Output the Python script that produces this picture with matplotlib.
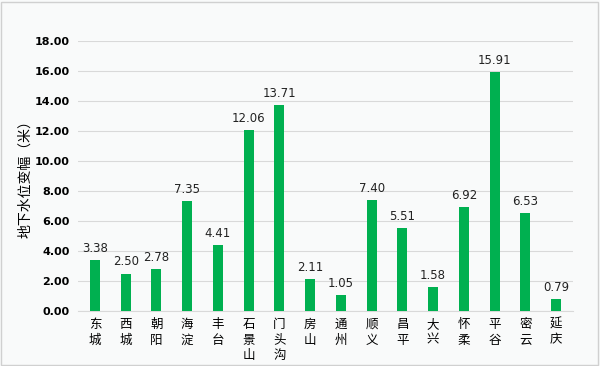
import matplotlib
matplotlib.use('Agg')
import matplotlib.pyplot as plt

plt.rcParams['font.family'] = ['Noto Sans CJK SC', 'DejaVu Sans']

# 各区地下水位变幅
districts = ['东城', '西城', '朝阳', '海淀', '丰台', '石景山', '门头沟', '房山',
             '通州', '顺义', '昌平', '大兴', '怀柔', '平谷', '密云', '延庆']
values = [3.38, 2.50, 2.78, 7.35, 4.41, 12.06, 13.71, 2.11,
          1.05, 7.40, 5.51, 1.58, 6.92, 15.91, 6.53, 0.79]
yticks = [0, 2, 4, 6, 8, 10, 12, 14, 16, 18]

bg = '#f9fafa'
fig = plt.figure(figsize=(6, 3.66), dpi=100, facecolor=bg)
fig.patches.append(plt.Rectangle((0.002, 0.003), 0.995, 0.992, transform=fig.transFigure,
                                 fill=False, edgecolor='#d0d0d0', linewidth=1))
ax = fig.add_axes([0.13, 0.15, 0.825, 0.738])
ax.set_facecolor(bg)

x = range(len(values))
ax.bar(x, values, width=0.33, color='#00b050', zorder=3)
for i, v in zip(x, values):
    ax.text(i, v + 0.35, f'{v:.2f}', ha='center', va='bottom', fontsize=8.5,
            family='DejaVu Sans', color='#222222')

ax.set_ylim(0, 18)
ax.set_xlim(-0.55, len(values) - 0.45)
ax.set_yticks(yticks)
ax.set_yticklabels([f'{t:.2f}' for t in yticks], fontsize=8, fontweight='bold',
                   family='DejaVu Sans')
ax.yaxis.grid(True, color='#d9d9d9', linewidth=0.8, zorder=0)
ax.set_xticks(list(x))
ax.set_xticklabels(['\n'.join(d) for d in districts], fontsize=9, linespacing=1.25,
                   va='top')
ax.tick_params(axis='both', length=0)
ax.tick_params(axis='x', pad=5)
ax.tick_params(axis='y', pad=6)
for s in ['top', 'right', 'left']:
    ax.spines[s].set_visible(False)
ax.spines['bottom'].set_color('#d9d9d9')
ax.set_ylabel('地下水位变幅（米）', fontsize=10, labelpad=2)

fig.savefig('out.png', dpi=100, facecolor=bg)
